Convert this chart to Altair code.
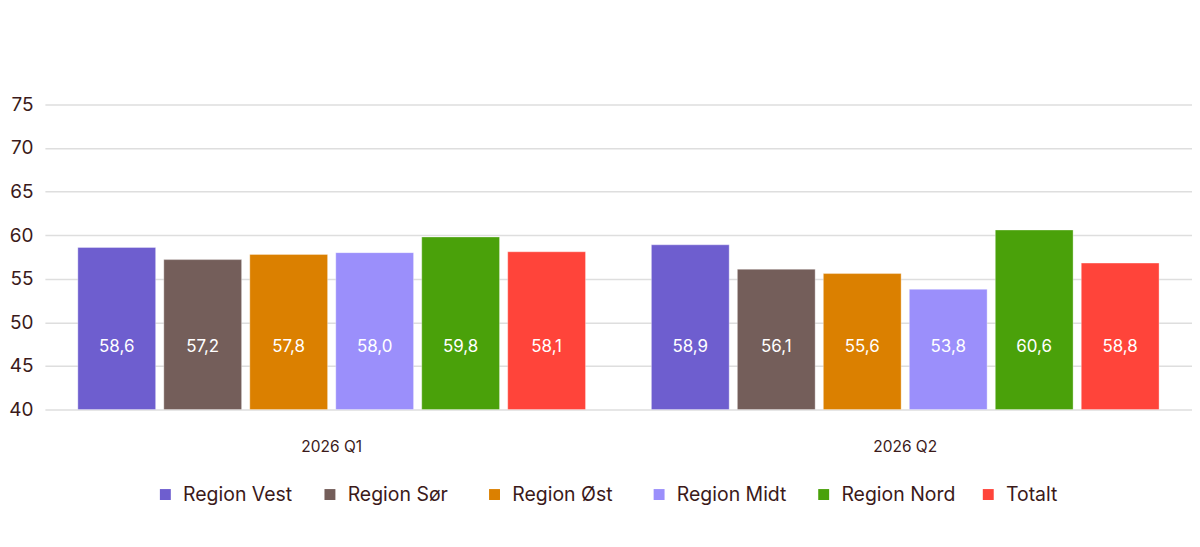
import altair as alt
import pandas as pd

quarters = ["2026 Q1", "2026 Q2"]
regions = ["Region Vest", "Region Sør", "Region Øst", "Region Midt", "Region Nord", "Totalt"]
colors = ["#6e5ecf", "#745e5a", "#db8000", "#9b8ffb", "#4aa10a", "#ff443a"]
q1_values = [58.6, 57.2, 57.8, 58.0, 59.8, 58.1]
q2_values = [58.9, 56.1, 55.6, 53.8, 60.6, 56.8]
q1_labels = ["58,6", "57,2", "57,8", "58,0", "59,8", "58,1"]
q2_labels = ["58,9", "56,1", "55,6", "53,8", "60,6", "58,8"]
y_ticks = [40, 45, 50, 55, 60, 65, 70, 75]

rows = []
for q, vals, labs in [(quarters[0], q1_values, q1_labels), (quarters[1], q2_values, q2_labels)]:
    for r, v, l in zip(regions, vals, labs):
        rows.append({"quarter": q, "region": r, "value": v, "label": l})
df = pd.DataFrame(rows)

FONT = "Inter"
TXT = "#3b1a1a"

base = alt.Chart(df).encode(
    x=alt.X("quarter:N", sort=quarters, title=None,
            scale=alt.Scale(paddingInner=0, paddingOuter=0),
            axis=alt.Axis(labelAngle=0, domain=False, ticks=False, labelPadding=30,
                          labelFontSize=15.5, labelColor=TXT, labelFont=FONT)),
    xOffset=alt.XOffset("region:N", sort=regions,
                        scale=alt.Scale(paddingInner=0.095, paddingOuter=0.383)),
)

bars = base.mark_bar(stroke="white", strokeOpacity=0.35, strokeWidth=1).encode(
    y=alt.Y("value:Q", title=None,
            scale=alt.Scale(domain=[40, 75], zero=False, nice=False),
            axis=alt.Axis(values=y_ticks, domain=False, ticks=False, labelPadding=12,
                          labelFontSize=19, labelColor=TXT, labelFont=FONT,
                          gridColor="#dedede", gridWidth=1.5)),
    y2=alt.datum(40),
    color=alt.Color("region:N", sort=regions, title=None,
                    scale=alt.Scale(domain=regions, range=colors),
                    legend=alt.Legend(orient="none", legendX=111, legendY=381,
                                      direction="horizontal", columns=6, gridAlign="all",
                                      symbolType="square", symbolSize=120, symbolStrokeWidth=0,
                                      labelFontSize=19.5, labelColor=TXT, labelFont=FONT,
                                      labelOffset=8, columnPadding=23, labelLimit=300)),
)

texts = base.mark_text(color="white", fontSize=17, font=FONT).encode(
    y=alt.value(243),
    text="label:N",
)

chart = (bars + texts).properties(
    width=1150, height=306,
    padding={"left": 0, "top": 87, "right": 0, "bottom": 5},
).configure_view(stroke=None)

chart.save("out.html", embed_options={"renderer": "svg", "actions": False})
